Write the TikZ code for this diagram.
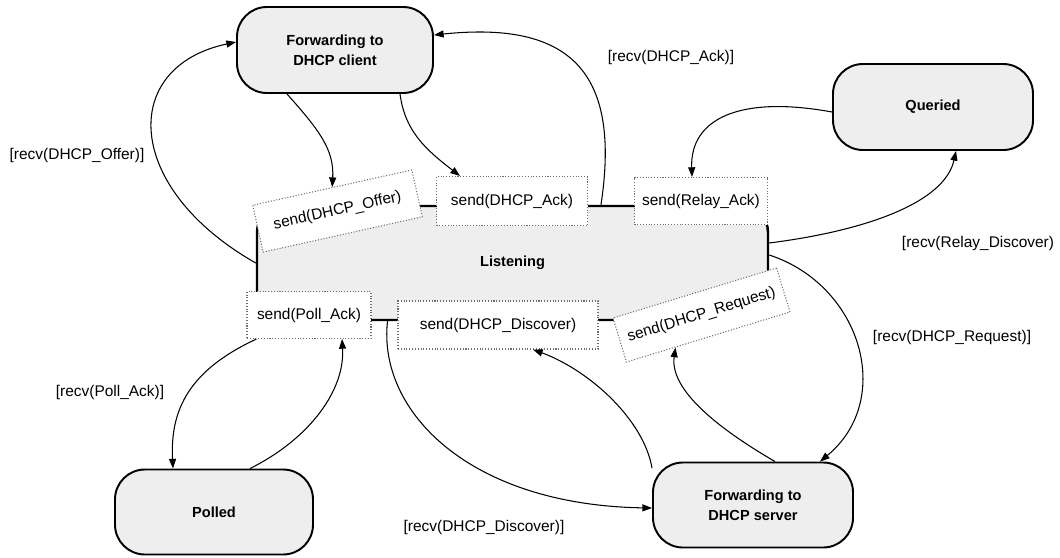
\documentclass[tikz,border=0pt]{standalone}
\usepackage{fontspec}
\setmainfont{Liberation Sans}
\usepackage{tikz}
\usetikzlibrary{arrows.meta,calc}
\definecolor{stateF}{HTML}{EEEEEE}
\definecolor{sendB}{HTML}{6E6E6E}
\tikzset{
 state/.style={draw, line width=1.1pt, fill=stateF, rounded corners=17pt, align=center, inner sep=0pt,
               font=\fontsize{8.3}{11.2}\selectfont\bfseries},
 sendbox/.style={draw=sendB, densely dotted, line width=0.6pt, fill=white, inner sep=0pt,
               font=\fontsize{8.8}{10.5}\selectfont},
 arr/.style={-{Triangle[length=5.5pt,width=4pt]}, line width=0.6pt},
 lbl/.style={font=\fontsize{8.8}{10.5}\selectfont, inner sep=0pt},
}

\begin{document}
\begin{tikzpicture}
\useasboundingbox (0,0) rectangle (21.2,-11.14);
% states
\node[state, minimum width=10.22cm, minimum height=2.28cm, rounded corners=15pt, line width=1.4pt] (listen) at (10.25,-5.26) {Listening};
\node[state, minimum width=3.92cm, minimum height=1.72cm] (client) at (6.70,-1.00) {Forwarding to\\DHCP client};
\node[state, minimum width=4.00cm, minimum height=1.72cm] (queried) at (18.66,-2.14) {Queried};
\node[state, minimum width=3.96cm, minimum height=1.70cm] (polled) at (4.28,-10.24) {Polled};
\node[state, minimum width=4.00cm, minimum height=1.70cm] (server) at (15.06,-10.10) {Forwarding to\\DHCP server};
% send actions on the listening state
\node[sendbox, minimum width=3.26cm, minimum height=0.96cm, rotate=12.5] (offer) at (6.75,-4.22) {send(DHCP\_Offer)};
\node[sendbox, minimum width=3.02cm, minimum height=0.98cm] (ack) at (10.24,-4.02) {send(DHCP\_Ack)};
\node[sendbox, minimum width=2.66cm, minimum height=0.94cm] (relay) at (14.02,-4.02) {send(Relay\_Ack)};
\node[sendbox, minimum width=2.48cm, minimum height=0.94cm] (poll) at (6.18,-6.30) {send(Poll\_Ack)};
\node[sendbox, minimum width=4.00cm, minimum height=0.96cm] (disc) at (9.96,-6.50) {send(DHCP\_Discover)};
\node[sendbox, minimum width=3.42cm, minimum height=0.92cm, rotate=17] (request) at (14.03,-6.30) {send(DHCP\_Request)};
% guards
\node[lbl] (lofr) at (1.54,-3.10) {[recv(DHCP\_Offer)]};
\node[lbl] (lack) at (13.42,-1.14) {[recv(DHCP\_Ack)]};
\node[lbl] (lrel) at (19.56,-4.86) {[recv(Relay\_Discover)};
\node[lbl] (lreq) at (19.04,-6.74) {[recv(DHCP\_Request)]};
\node[lbl] (ldis) at (9.68,-10.54) {[recv(DHCP\_Discover)]};
\node[lbl] (lpol) at (2.20,-7.84) {[recv(Poll\_Ack)]};
% transitions
\draw[arr] (listen.west) .. controls +(-2.64,1.50) and +(-2.34,-0.50) .. ([yshift=0.16cm]client.west);
\draw[arr] ([xshift=-0.96cm]client.south) .. controls +(0.66,-0.74) and +(0.04,0.74) .. (offer.north);
\draw[arr] ([xshift=1.30cm]client.south) .. controls +(0.10,-0.74) and +(-0.70,0.54) .. ([xshift=-1.04cm]ack.north);
\draw[arr] ([xshift=1.77cm]listen.north) .. controls +(0.38,2.52) and +(2.86,0.30) .. ([yshift=0.30cm]client.east);
\draw[arr] ([yshift=-0.10cm]queried.west) .. controls +(-1.86,0.34) and +(-0.04,1.16) .. ([xshift=-0.18cm]relay.north);
\draw[arr] ([yshift=0.40cm]listen.east) .. controls +(2.04,0.26) and +(-0.22,-1.00) .. ([xshift=0.46cm]queried.south);
\draw[arr] ([yshift=0.16cm]listen.east) .. controls +(1.84,-0.60) and +(1.50,1.24) .. ([xshift=1.34cm]server.north);
\draw[arr] ([xshift=0.44cm]server.north) .. controls +(-1.10,0.64) and +(-0.12,-0.86) .. ($(request.south west)!0.3!(request.south east)$);
\draw[arr] (server.160) .. controls +(-0.16,0.96) and +(1.14,-0.42) .. ([xshift=0.70cm]disc.south);
\draw[arr] ([xshift=-2.50cm]listen.south) .. controls +(-0.20,-1.80) and +(-3.66,0.06) .. ([yshift=-0.06cm]server.west);
\draw[arr] ([xshift=0.20cm]poll.south west) .. controls +(-1.34,-0.62) and +(-0.06,1.18) .. ([xshift=-0.82cm]polled.north);
\draw[arr] ([xshift=0.72cm]polled.north) .. controls +(1.20,0.60) and +(0.06,-1.02) .. ([xshift=0.66cm]poll.south);
\end{tikzpicture}
\end{document}
